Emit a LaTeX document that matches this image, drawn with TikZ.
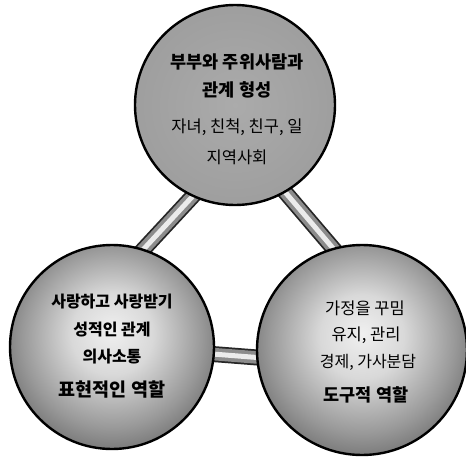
\documentclass[tikz,border=0pt]{standalone}
\usepackage{fontspec}
\newfontfamily\kr{Noto Sans CJK KR}
\usetikzlibrary{backgrounds}
\pgfdeclareradialshading{topball}{\pgfpoint{0bp}{0bp}}{color(0bp)=(black!33); color(36bp)=(black!40); color(46bp)=(black!52); color(50bp)=(black!80)}
\pgfdeclareradialshading{sideball}{\pgfpoint{0bp}{4bp}}{color(0bp)=(black!6); color(10bp)=(black!15); color(22bp)=(black!40); color(34bp)=(black!68); color(44bp)=(black!86); color(50bp)=(black!97)}
\begin{document}
\begin{tikzpicture}[x=1pt,y=-1pt,
  ball/.style={circle, draw=black, line width=2.4pt, inner sep=0pt},
  lbl/.style={font=\kr\fontsize{16.5}{19}\selectfont, inner sep=0pt, anchor=center},
  blbl/.style={font=\kr\bfseries\fontsize{17.5}{20}\selectfont, inner sep=0pt, anchor=center},
  barout/.style={line width=16pt, draw=black!85, shorten <=-14pt, shorten >=-14pt},
  barmid/.style={line width=12.5pt, draw=black!45, shorten <=-14pt, shorten >=-14pt},
  barin/.style={line width=5pt, draw=black!8, shorten <=-14pt, shorten >=-14pt}]
\useasboundingbox (0,0) rectangle (466,458);
\node[ball, shading=topball, minimum size=200pt] (top) at (235,105) {};
\node[ball, shading=sideball, minimum size=204pt] (bl) at (112,347) {};
\node[ball, shading=sideball, minimum size=210pt] (br) at (362,350) {};
\begin{scope}[on background layer]
  \fill[white] (0,0) rectangle (466,458);
  \foreach \s in {barout,barmid,barin}{
    \draw[\s] (top.245) -- (bl.72);
    \draw[\s] (top.300) -- (br.106);
    \draw[\s] (bl.-4) -- (br.184);
  }
\end{scope}
% top circle text
\node[blbl] (t1) at (237,62) {부부와 주위사람과};
\node[blbl] (t2) at (237,90) {관계 형성};
\node[lbl] (t3) at (237,127) {자녀, 친척, 친구, 일};
\node[lbl] (t4) at (237,157) {지역사회};
% bottom-left text
\node[blbl, font=\kr\bfseries\fontsize{16}{19}\selectfont] (l1) at (112,302) {사랑하고 사랑받기};
\node[blbl, font=\kr\bfseries\fontsize{16}{19}\selectfont] (l2) at (112,330) {성적인 관계};
\node[blbl, font=\kr\bfseries\fontsize{16}{19}\selectfont] (l3) at (112,357) {의사소통};
\node[blbl, font=\kr\bfseries\fontsize{18.5}{22}\selectfont] (l4) at (112,390) {표현적인 역할};
% bottom-right text
\node[lbl] (r1) at (365,308) {가정을 꾸밈};
\node[lbl] (r2) at (366,335) {유지, 관리};
\node[lbl, font=\kr\fontsize{16}{19}\selectfont] (r3) at (368,362) {경제, 가사분담};
\node[blbl] (r4) at (366,395) {도구적 역할};
\end{tikzpicture}
\end{document}
